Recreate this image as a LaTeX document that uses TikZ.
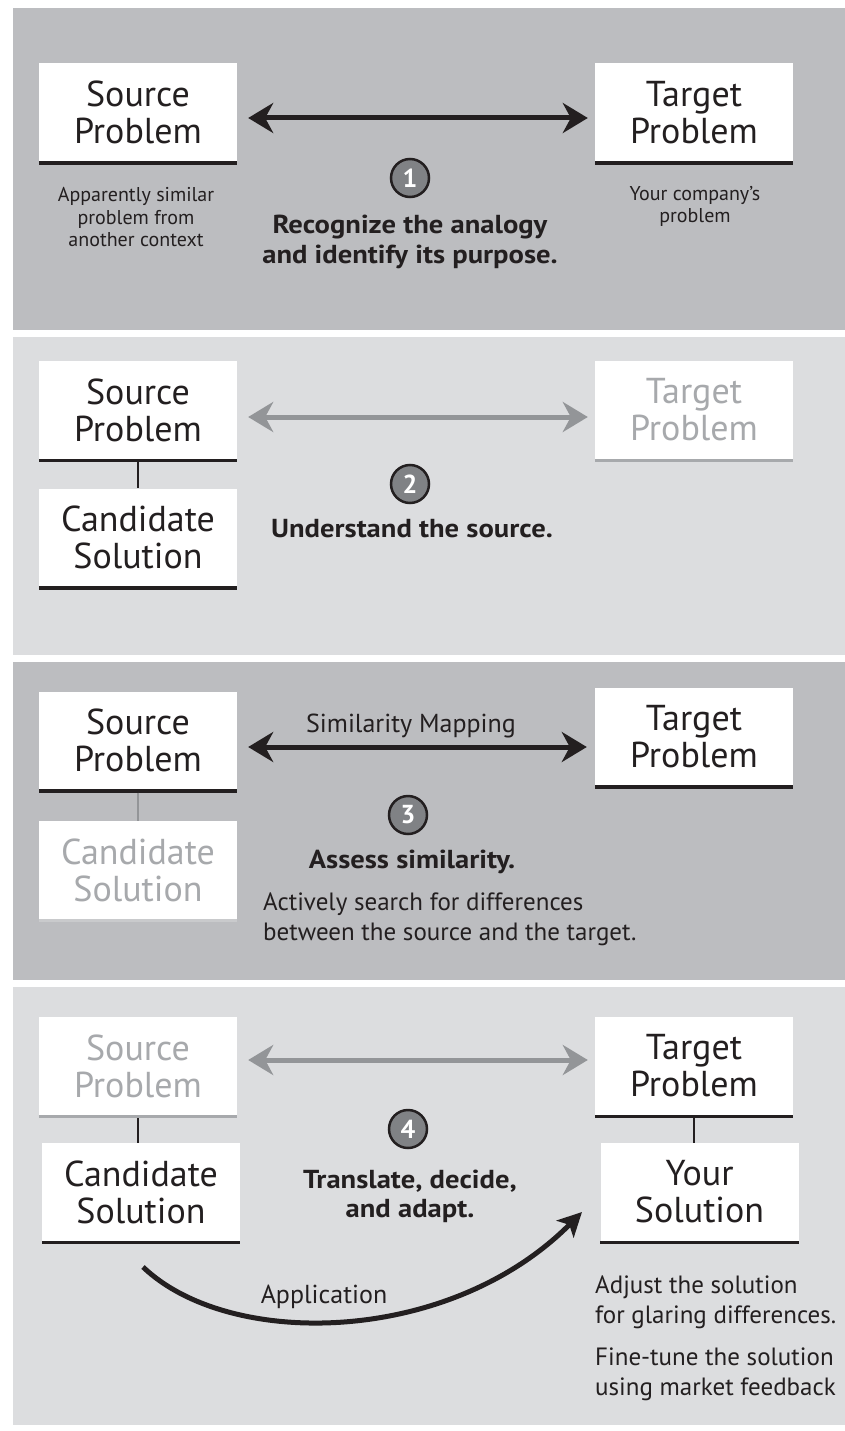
\documentclass[tikz,border=0pt]{standalone}
\usepackage{fontspec}
\setmainfont{PT Sans}
\newfontfamily\headfont{PT Sans}[FakeStretch=1.1]
\usetikzlibrary{arrows.meta}
\definecolor{pdark}{HTML}{BCBDC0}
\definecolor{plight}{HTML}{DCDDDF}
\definecolor{ink}{HTML}{231F20}
\definecolor{fade}{HTML}{A7A9AC}
\definecolor{faintline}{HTML}{C9CACC}
\definecolor{garrow}{HTML}{939598}
\definecolor{numfill}{HTML}{808285}
\tikzset{
 box/.style={fill=white, minimum width=198pt, minimum height=98pt, inner sep=0pt, align=center, font=\fontsize{36}{37}\selectfont, text=ink},
 fadebox/.style={box, text=fade},
 uline/.style={ink, line width=3.5pt},
 fline/.style={fade, line width=3.5pt},
 faintuline/.style={faintline, line width=3.5pt},
 link/.style={ink, line width=2.5pt},
 glink/.style={garrow, line width=2pt},
 bigarrow/.style={ink, line width=5pt, {Stealth[length=25pt,width=30pt,inset=8pt]}-{Stealth[length=25pt,width=30pt,inset=8pt]}},
 grayarrow/.style={bigarrow, draw=garrow},
 curvearrow/.style={ink, line width=5pt, -{Stealth[length=24pt,width=24pt,inset=6pt]}},
 stepnum/.style={circle, fill=numfill, draw=ink, line width=2.5pt, minimum size=38pt, inner sep=0pt, text=white, font=\bfseries\fontsize{26}{26}\selectfont},
 headline/.style={font=\headfont\bfseries\fontsize{26}{29}\selectfont, text=ink, align=center},
 note/.style={font=\fontsize{20}{22.5}\selectfont, text=ink, align=center},
 body/.style={font=\fontsize{25}{30}\selectfont, text=ink, align=left},
 label/.style={font=\fontsize{26}{28}\selectfont, text=ink},
}
\begin{document}
\begin{tikzpicture}[x=1pt,y=-1pt]
\useasboundingbox (0,0) rectangle (845,1431);
\fill[white] (0,0) rectangle (845,1431);
% panels
\fill[pdark] (13,8) rectangle (845,330);
\fill[plight] (13,337) rectangle (845,655);
\fill[pdark] (13,662) rectangle (845,980);
\fill[plight] (13,987) rectangle (845,1425);

% ---------- Panel 1 ----------
\node[box] (s1) at (138,112.5) {Source\\Problem};
\node[box] (t1) at (694,112.5) {Target\\Problem};
\draw[uline] ([yshift=-1.5pt]s1.south west) -- ([yshift=-1.5pt]s1.south east);
\draw[uline] ([yshift=-1.5pt]t1.south west) -- ([yshift=-1.5pt]t1.south east);
\draw[bigarrow, shorten <=11pt, shorten >=7pt] ([yshift=-5.5pt]s1.east) -- ([yshift=-5.5pt]t1.west);
\node[stepnum] (n1) at (410,178) {1};
\node[headline, anchor=base] (h1) at (410,263) {Recognize the analogy\\and identify its purpose.};
\node[note, anchor=base] (a1) at (136,247) {Apparently similar\\problem from\\another context};
\node[note, anchor=base] (b1) at (695,223) {Your company’s\\problem};

% ---------- Panel 2 ----------
\node[box] (s2) at (138,410) {Source\\Problem};
\node[box] (c2) at (138,537.5) {Candidate\\Solution};
\node[fadebox] (t2) at (694,410) {Target\\Problem};
\draw[uline] ([yshift=-1.5pt]s2.south west) -- ([yshift=-1.5pt]s2.south east);
\draw[uline] ([yshift=-1.5pt]c2.south west) -- ([yshift=-1.5pt]c2.south east);
\draw[fline] ([yshift=-1.5pt]t2.south west) -- ([yshift=-1.5pt]t2.south east);
\draw[link] ([yshift=-3pt]s2.south) -- (c2.north);
\draw[grayarrow, shorten <=11pt, shorten >=7pt] ([yshift=-7pt]s2.east) -- ([yshift=-7pt]t2.west);
\node[stepnum] (n2) at (410,484) {2};
\node[headline, anchor=base] (h2) at (412,537) {Understand the source.};

% ---------- Panel 3 ----------
\node[box] (s3) at (138,740.5) {Source\\Problem};
\node[box] (t3) at (694,736.5) {Target\\Problem};
\node[fadebox] (c3) at (138,870) {Candidate\\Solution};
\draw[uline] ([yshift=-1.5pt]s3.south west) -- ([yshift=-1.5pt]s3.south east);
\draw[uline] ([yshift=-1.5pt]t3.south west) -- ([yshift=-1.5pt]t3.south east);
\draw[faintuline] ([yshift=-1.5pt]c3.south west) -- ([yshift=-1.5pt]c3.south east);
\draw[glink] ([yshift=-3pt]s3.south) -- (c3.north);
\draw[bigarrow, shorten <=11pt, shorten >=8pt] ([yshift=-6.5pt]s3.east) -- ([yshift=-6.5pt]s3.east -| t3.west);
\node[label, anchor=base] (m3) at (411,732) {Similarity Mapping};
\node[stepnum] (n3) at (408,815) {3};
\node[headline, anchor=base] (h3) at (412,868) {Assess similarity.};
\node[body, anchor=base west, inner sep=0pt] (d3) at (263,940) {Actively search for differences\\between the source and the target.};

% ---------- Panel 4 ----------
\node[fadebox] (s4) at (138,1066) {Source\\Problem};
\node[box] (t4) at (694,1066) {Target\\Problem};
\node[box] (c4) at (141,1192) {Candidate\\Solution};
\node[box] (y4) at (699.5,1192) {Your\\Solution};
\draw[fline] ([yshift=-1.5pt]s4.south west) -- ([yshift=-1.5pt]s4.south east);
\draw[uline] ([yshift=-1.5pt]t4.south west) -- ([yshift=-1.5pt]t4.south east);
\draw[uline] ([yshift=-1.5pt]c4.south west) -- ([yshift=-1.5pt]c4.south east);
\draw[uline] ([yshift=-1.5pt]y4.south west) -- ([yshift=-1.5pt]y4.south east);
\draw[link] ([yshift=-3pt]s4.south) -- (s4.south |- c4.north);
\draw[link] ([yshift=-3pt]t4.south) -- (t4.south |- y4.north);
\draw[grayarrow, shorten <=11pt, shorten >=7pt] ([yshift=6pt]s4.east) -- ([yshift=6pt]t4.west);
\node[stepnum] (n4) at (408,1129) {4};
\node[headline, anchor=base] (h4) at (410,1217) {Translate, decide,\\and adapt.};
\coordinate (appS) at (143,1267);
\coordinate (appE) at (582,1212);
\draw[curvearrow] (appS) .. controls (230,1350) and (450,1345) .. (appE);
\node[label, anchor=base] (ap) at (324,1303) {Application};
\node[body, anchor=base west, inner sep=0pt] (r4a) at (595,1323) {Adjust the solution\\for glaring differences.};
\node[body, anchor=base west, inner sep=0pt] (r4b) at (595,1395) {Fine-tune the solution\\using market feedback};
\end{tikzpicture}
\end{document}
